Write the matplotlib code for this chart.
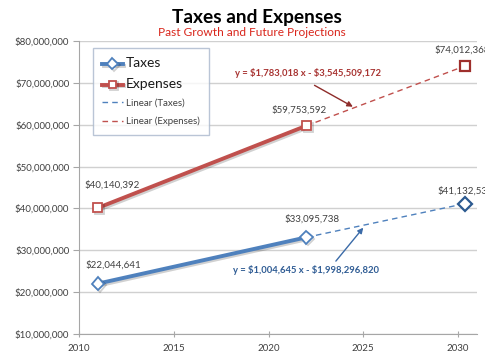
import matplotlib
matplotlib.use("Agg")
import matplotlib.pyplot as plt
import matplotlib.patheffects as pe
from matplotlib.ticker import FuncFormatter
from matplotlib.transforms import Bbox, TransformedBbox

plt.rcParams['font.family'] = ['Lato', 'DejaVu Sans']

# ---- data ----
years_past = [2011, 2022]
taxes_past = [22044641, 33095738]
expenses_past = [40140392, 59753592]
year_future = 2030.35
taxes_future = 41132533
expenses_future = 74012368
taxes_eq = r"y = \$1,004,645 x - \$1,998,296,820"
expenses_eq = r"y = \$1,783,018 x - \$3,545,509,172"
yticks = list(range(10000000, 80000001, 10000000))
xticks = [2010, 2015, 2020, 2025, 2030]

blue = '#4F81BD'
blue_dark = '#2C5A90'
red = '#C0504D'
red_dark = '#9E2F2C'
txt = '#404040'

fig = plt.figure(figsize=(5.01, 3.64), dpi=100)
ax = fig.add_axes([79/501, 1-334/364, (477-79)/501, (334-41)/364])

shadow = [pe.SimpleLineShadow(offset=(1.2, -1.2), alpha=0.18, shadow_color='black'), pe.Normal()]

# trend lines (dashed)
lt, = ax.plot([years_past[-1], year_future], [taxes_past[-1], taxes_future],
              color=blue, lw=1.0, ls=(0, (4, 3)), zorder=3, label='Linear (Taxes)')
le, = ax.plot([years_past[-1], year_future], [expenses_past[-1], expenses_future],
              color=red, lw=1.0, ls=(0, (4, 3)), zorder=3, label='Linear (Expenses)')

# main lines
ht, = ax.plot(years_past, taxes_past, color=blue, lw=2.8, marker='D', ms=6.5,
              mfc='white', mec=blue, mew=1.3, zorder=4, path_effects=shadow, label='Taxes')
he, = ax.plot(years_past, expenses_past, color=red, lw=2.8, marker='s', ms=6.5,
              mfc='white', mec=red, mew=1.3, zorder=4, path_effects=shadow, label='Expenses')

# future markers
ax.plot([year_future], [taxes_future], ls='none', marker='D', ms=7.5, mfc='white',
        mec=blue_dark, mew=1.6, zorder=5)
ax.plot([year_future], [expenses_future], ls='none', marker='s', ms=6.5, mfc='white',
        mec=red_dark, mew=1.6, zorder=5)

# data labels (clipped at the chart's right edge like the original)
clip = TransformedBbox(Bbox([[0, 0], [485/501, 1]]), fig.transFigure)

def lab(x, y, dx, dy):
    a = ax.annotate(f"${y:,.0f}", (x, y), xytext=(dx, dy), textcoords='offset pixels',
                    ha='center', va='center', fontsize=7, color=txt, annotation_clip=False)
    a.set_clip_box(clip)
    a.set_clip_on(True)

lab(years_past[0], expenses_past[0], 14, 23)
lab(years_past[1], expenses_past[1], -7, 16)
lab(years_past[0], taxes_past[0], 15, 19)
lab(years_past[1], taxes_past[1], 6, 18)
lab(year_future, expenses_future, -2, 16)
lab(year_future, taxes_future, 1, 13)

# equation annotations
ax.annotate(expenses_eq, xy=(2024.45, 64300000), xytext=(2022.1, 72400000),
            ha='center', va='center', fontsize=6.8, fontweight='bold', color='#A83432',
            arrowprops=dict(arrowstyle='-|>', color='#8E2C2A', lw=1.0,
                            shrinkA=7, shrinkB=0, mutation_scale=8,
                            relpos=(0.45, 0.0)))
ax.annotate(taxes_eq, xy=(2025.0, 35400000), xytext=(2022.0, 25300000),
            ha='center', va='center', fontsize=6.8, fontweight='bold', color='#2F5C94',
            arrowprops=dict(arrowstyle='-|>', color='#3B6BA8', lw=1.0,
                            shrinkA=1, shrinkB=0, mutation_scale=8,
                            relpos=(0.68, 1.0)))

# axes styling
ax.set_xlim(2010, 2031)
ax.set_ylim(10000000, 80000000)
ax.set_xticks(xticks)
ax.set_yticks(yticks)
ax.yaxis.set_major_formatter(FuncFormatter(lambda v, p: f"${v:,.0f}"))
ax.grid(axis='y', color='#D0D0D0', lw=1.0)
ax.set_axisbelow(True)
for s in ['top', 'right']:
    ax.spines[s].set_visible(False)
for s in ['left', 'bottom']:
    ax.spines[s].set_color('#A6A6A6')
ax.tick_params(axis='both', colors='#A6A6A6', labelcolor=txt, labelsize=7, length=4)
ax.tick_params(axis='x', direction='inout', length=5, pad=5)
ax.tick_params(axis='y', pad=3)

# legend
leg = ax.legend(handles=[ht, he, lt, le], loc='upper left',
                bbox_to_anchor=(93/501, 1-48/364), bbox_transform=fig.transFigure,
                frameon=True, fancybox=False, shadow=False, handlelength=2.1,
                borderpad=0.95, labelspacing=0.9, handletextpad=0.35, fontsize=7,
                borderaxespad=0, markerscale=0.85)
leg.get_frame().set_edgecolor('#A9B7CC')
leg.get_frame().set_linewidth(1.0)
for t in leg.get_texts()[:2]:
    t.set_fontsize(10)
for t in leg.get_texts():
    t.set_color('#1A1A1A')
for t in leg.get_texts()[2:]:
    t.set_color(txt)

fig.text(257/501, 1-17/364, "Taxes and Expenses", ha='center', va='center',
         fontsize=13.8, fontweight='bold', color='black')
fig.text(252/501, 1-32/364, "Past Growth and Future Projections", ha='center', va='center',
         fontsize=8.6, color='#D9261C')

fig.savefig('out.png', dpi=100)
